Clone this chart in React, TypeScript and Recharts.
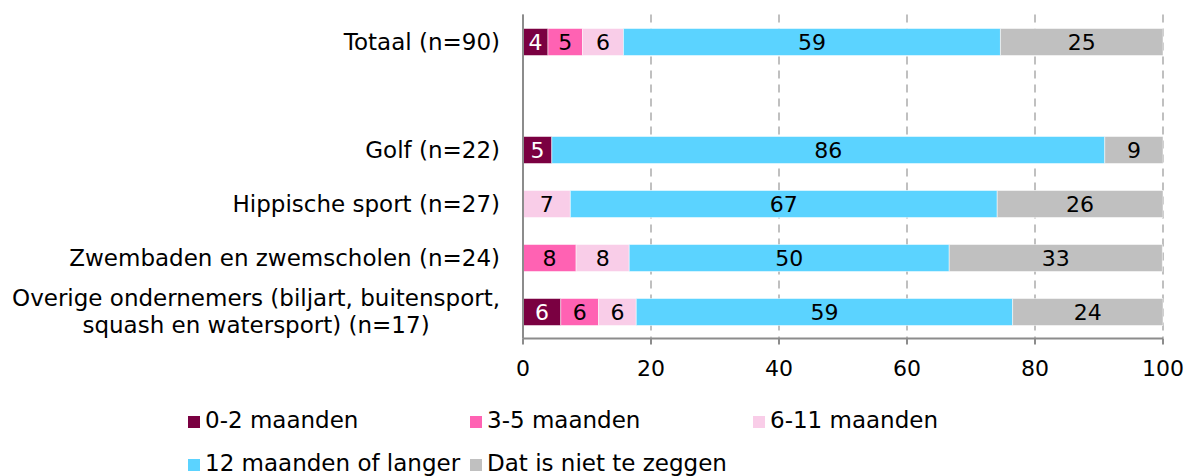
import { BarChart, Bar, XAxis, YAxis, CartesianGrid, Legend, LabelList } from "recharts";

// Rows top to bottom; the empty row is the gap under "Totaal".
const categories = [
  "Totaal (n=90)",
  "",
  "Golf (n=22)",
  "Hippische sport (n=27)",
  "Zwembaden en zwemscholen (n=24)",
  "Overige ondernemers (biljart, buitensport,\nsquash en watersport) (n=17)",
];

// Percentages per row (null = no segment)
const months0to2 = [3.9, null, 4.5, null, null, 5.9];
const months3to5 = [5.4, null, null, null, 8.3, 5.9];
const months6to11 = [6.4, null, null, 7.4, 8.3, 5.9];
const months12plus = [58.9, null, 86.4, 66.7, 50.0, 58.8];
const cannotSay = [25.4, null, 9.1, 25.9, 33.3, 23.5];

const xTicks = [0, 20, 40, 60, 80, 100];

const SERIES = [
  { key: "m0", name: "0-2 maanden", values: months0to2, color: "#7a0041", label: "#ffffff" },
  { key: "m3", name: "3-5 maanden", values: months3to5, color: "#ff62b3", label: "#000000" },
  { key: "m6", name: "6-11 maanden", values: months6to11, color: "#f9cde8", label: "#000000" },
  { key: "m12", name: "12 maanden of langer", values: months12plus, color: "#5bd3ff", label: "#000000" },
  { key: "dk", name: "Dat is niet te zeggen", values: cannotSay, color: "#c0c0c0", label: "#000000" },
];

const FONT = '"DejaVu Sans", sans-serif';

const data = categories.map((name, i) => {
  const row: Record<string, string | number | null> = { name };
  for (const s of SERIES) row[s.key] = s.values[i];
  return row;
});

let measureCtx: CanvasRenderingContext2D | null = null;
function textWidth(s: string, size: number) {
  if (!measureCtx) measureCtx = document.createElement("canvas").getContext("2d");
  if (!measureCtx) return s.length * size * 0.6;
  measureCtx.font = `${size}px "DejaVu Sans"`;
  return measureCtx.measureText(s).width;
}

// Category labels: right-aligned; multi-line labels are centred as a block.
function CategoryTick(props: any) {
  const { x, y, payload } = props;
  const lines = String(payload.value).split("\n");
  const size = 23;
  if (lines.length === 1) {
    return (
      <text x={x} y={y} dy="0.35em" textAnchor="end" fontSize={size} fontFamily={FONT} fill="#000">
        {lines[0]}
      </text>
    );
  }
  const w = Math.max(...lines.map((l) => textWidth(l, size)));
  const cx = x - w / 2;
  const lh = 27;
  const top = y - ((lines.length - 1) * lh) / 2;
  return (
    <text textAnchor="middle" fontSize={size} fontFamily={FONT} fill="#000">
      {lines.map((l, i) => (
        <tspan key={i} x={cx} y={top + i * lh} dy="0.35em">
          {l}
        </tspan>
      ))}
    </text>
  );
}

const LEGEND_COLS = [180, 462, 745];
const LEGEND_ROWS = [32, 75];

function renderLegend() {
  return (
    <div style={{ position: "relative", height: 88, fontFamily: FONT, fontSize: 23 }}>
      {SERIES.map((s, i) => {
        const left = LEGEND_COLS[i % 3];
        const top = LEGEND_ROWS[Math.floor(i / 3)];
        return (
          <div
            key={s.key}
            style={{ position: "absolute", left, top: top - 14, height: 28, display: "flex", alignItems: "center", whiteSpace: "nowrap" }}
          >
            <span style={{ width: 12, height: 12, background: s.color, display: "inline-block", marginRight: 5, marginTop: 3 }} />
            <span>{s.name}</span>
          </div>
        );
      })}
    </div>
  );
}

const fmt = (v: any) => (v == null || v === 0 ? "" : Math.round(Number(v)));

export default function App() {
  return (
    <div
      style={{
        fontFamily: FONT,
        width: 1187,
        height: 476,
        padding: "8px 0 0 8px",
        boxSizing: "border-box",
        overflow: "hidden",
      }}
    >
      <style>{"body{margin:0}"}</style>
      <BarChart
        width={1179}
        height={468}
        data={data}
        layout="vertical"
        margin={{ top: 6.5, right: 24, left: 0, bottom: 0 }}
        barSize={27}
      >
        <CartesianGrid horizontal={false} stroke="#c0c0c0" strokeWidth={2} strokeDasharray="8 6" />
        <XAxis
          type="number"
          domain={[0, 100]}
          ticks={xTicks}
          height={49.5}
          tickSize={6}
          tickMargin={16}
          axisLine={{ stroke: "#8c8c8c", strokeWidth: 2 }}
          tickLine={{ stroke: "#8c8c8c", strokeWidth: 2 }}
          tick={{ fill: "#000", fontSize: 22, fontFamily: FONT }}
        />
        <YAxis
          type="category"
          dataKey="name"
          width={515}
          tickSize={0}
          tickMargin={23}
          axisLine={{ stroke: "#8c8c8c", strokeWidth: 2 }}
          tickLine={false}
          tick={<CategoryTick />}
          interval={0}
        />
        <Legend verticalAlign="bottom" content={renderLegend} />
        {SERIES.map((s) => (
          <Bar
            key={s.key}
            dataKey={s.key}
            name={s.name}
            stackId="a"
            fill={s.color}
            stroke="#ffffff"
            strokeWidth={0.5}
            isAnimationActive={false}
          >
            <LabelList
              dataKey={s.key}
              position="center"
              fill={s.label}
              fontSize={22}
              fontFamily={FONT}
              formatter={fmt}
            />
          </Bar>
        ))}
      </BarChart>
    </div>
  );
}
